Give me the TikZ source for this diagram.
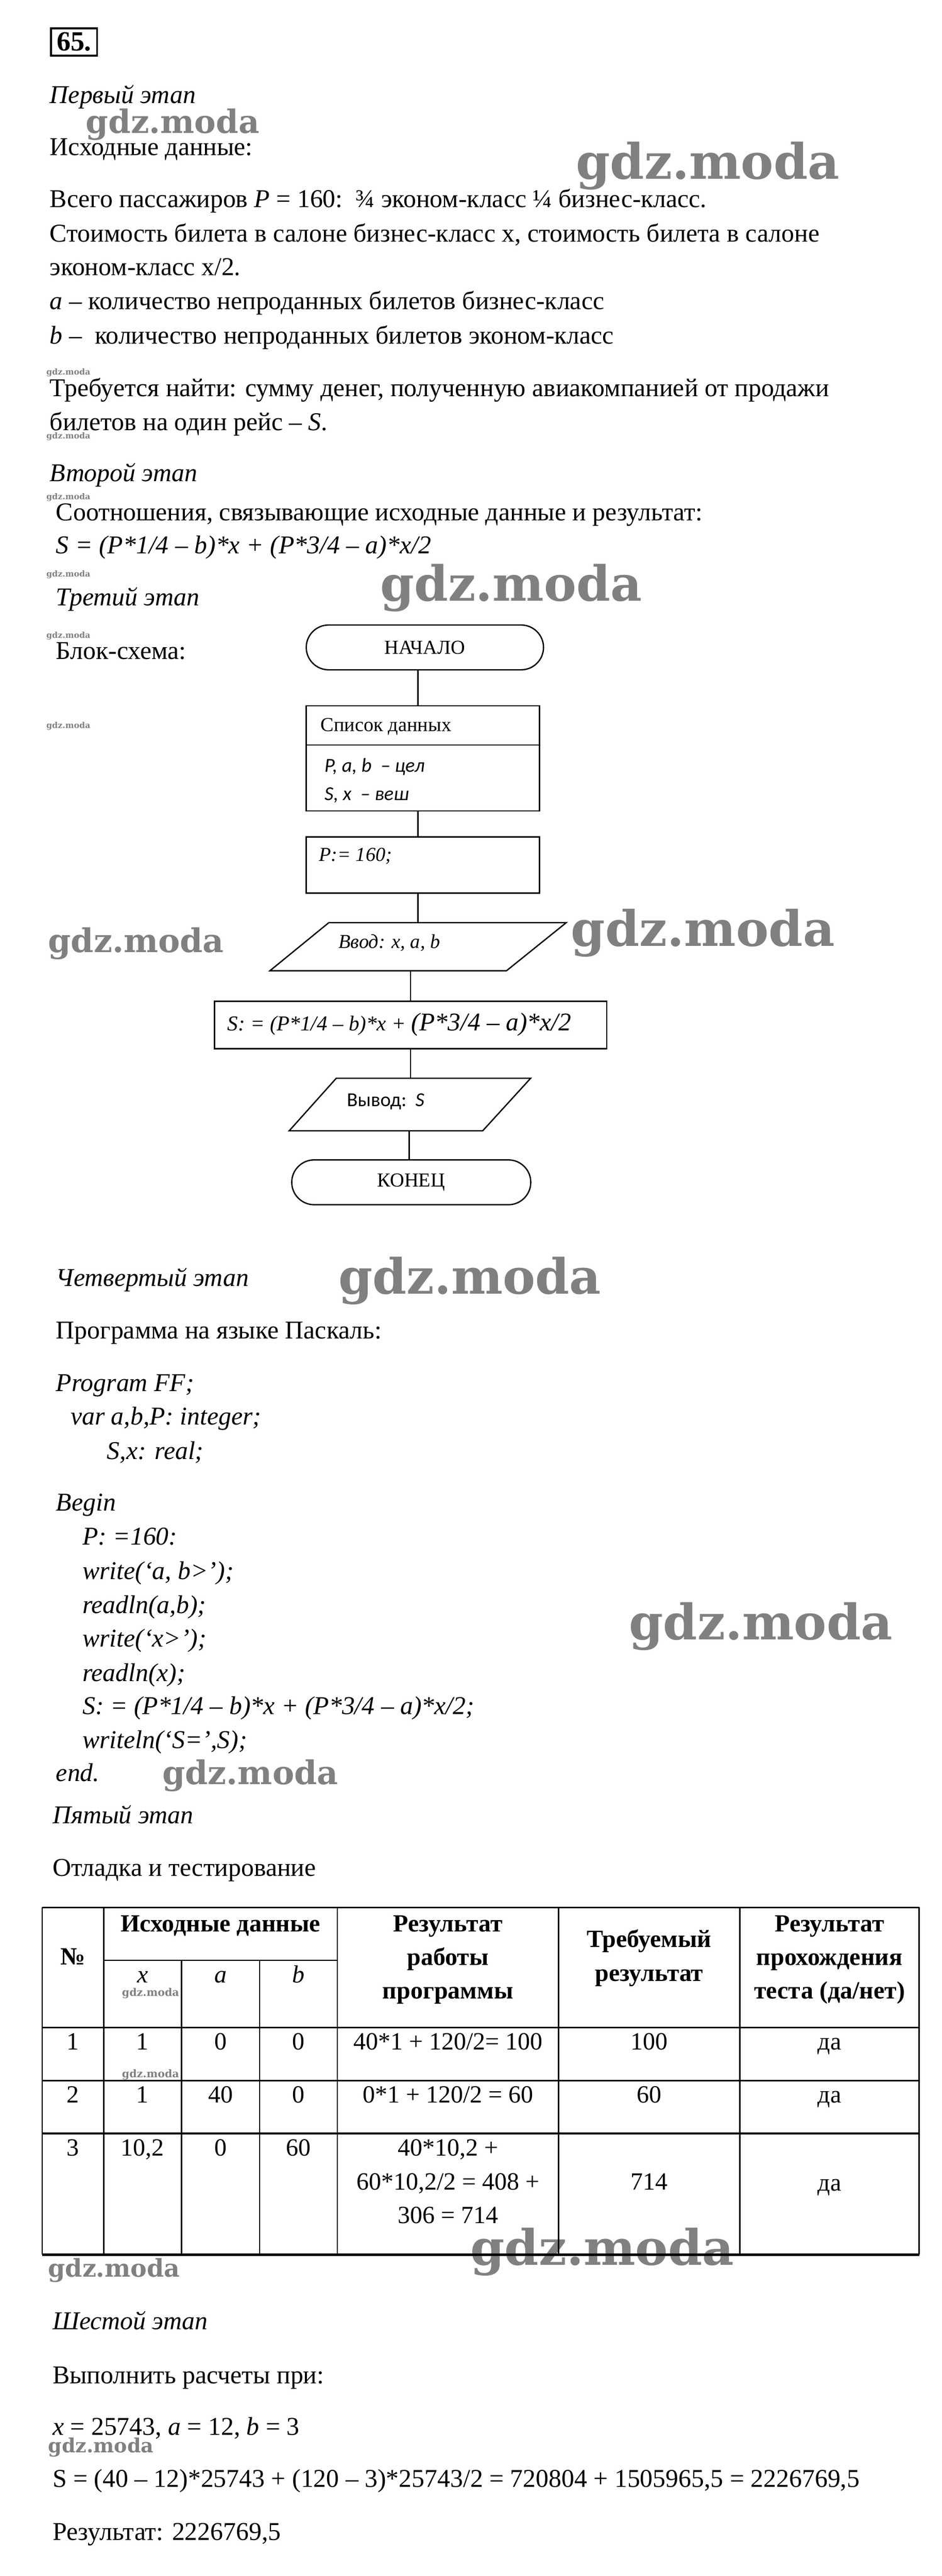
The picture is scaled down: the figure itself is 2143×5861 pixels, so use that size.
\documentclass[tikz,border=0pt]{standalone}
\usepackage{fontspec}
\usepackage{graphicx}
\setmainfont{Liberation Serif}
\newfontfamily\calfam{Carlito}
\newfontfamily\wmfam{DejaVu Serif}
\newcommand\mybody{\fontsize{16.6}{19}\selectfont}
\newcommand\mytab{\fontsize{16.0}{19}\selectfont}
\newcommand\myfc{\fontsize{12.8}{15}\selectfont}
\newcommand\mywm[1]{\resizebox{#1}{!}{\wmfam\bfseries gdz.moda}}
\tikzset{
  txt/.style={anchor=base west, inner sep=0pt, font=\mybody},
  itxt/.style={anchor=base west, inner sep=0pt, font=\mybody\itshape},
  fct/.style={anchor=base west, inner sep=0pt, font=\myfc},
  wm/.style={anchor=base west, inner sep=0pt, text=black!50},
  conn/.style={line width=0.3mm},
  term/.style={draw, line width=0.3mm, rounded corners=5.1mm, inner sep=0pt, minimum height=10.2mm, font=\myfc},
  proc/.style={draw, line width=0.3mm, inner sep=0pt},
  tl/.style={line width=0.3mm},
  tc/.style={anchor=base, inner sep=0pt, font=\mytab},
  th/.style={anchor=base, inner sep=0pt, font=\mytab\bfseries},
  ti/.style={anchor=base, inner sep=0pt, font=\mytab\itshape},
}
\begin{document}
\begin{tikzpicture}[x=0.1mm,y=-0.1mm]
\fill[white] (0,0) rectangle (2143,5861);
\useasboundingbox (0,0) rectangle (2143,5861);

% ---------- watermarks ----------
\node[wm] (w1) at (195,303) {\mywm{39.5mm}};
\node[wm] (w2) at (1310,407) {\mywm{60mm}};
\node[wm] (s1) at (105,853) {\mywm{10mm}};
\node[wm] (s2) at (105,998) {\mywm{10mm}};
\node[wm] (s3) at (105,1137) {\mywm{10mm}};
\node[wm] (s4) at (105,1312) {\mywm{10mm}};
\node[wm] (s5) at (105,1452) {\mywm{10mm}};
\node[wm] (s6) at (105,1657) {\mywm{10mm}};
\node[wm] (w3) at (865,1367) {\mywm{59.5mm}};
\node[wm] (w4) at (109,2167) {\mywm{40mm}};
\node[wm] (w5) at (1299,2153) {\mywm{60mm}};
\node[wm] (w6) at (770,2944) {\mywm{59.7mm}};
\node[wm] (w7) at (1431,3730) {\mywm{60mm}};
\node[wm] (w8) at (369,4060) {\mywm{40mm}};
\node[wm] (s7) at (277,4542) {\mywm{13mm}};
\node[wm] (s8) at (277,4727) {\mywm{13mm}};
\node[wm] (w9) at (109,5181) {\mywm{30mm}};
\node[wm] (w10) at (1070,5153) {\mywm{60mm}};
\node[wm] (w11) at (109,5580) {\mywm{24mm}};

% ---------- header ----------
\node[draw, line width=0.45mm, minimum width=10.5mm, minimum height=6.3mm, inner sep=0pt,
      font=\fontsize{18}{20}\selectfont\bfseries] (num) at (168.5,95.5) {65.};

% ---------- stage 1 ----------
\node[itxt] (st1) at (113,235) {Первый этап};
\node[txt] (l1) at (113,353) {Исходные данные:};
\node[txt] (l2) at (113,472) {Всего пассажиров \textit{P} = 160:\ \ ¾ эконом-класс ¼ бизнес-класс.};
\node[txt] (l3) at (113,550) {Стоимость билета в салоне бизнес-класс x, стоимость билета в салоне};
\node[txt] (l4) at (113,626) {эконом-класс x/2.};
\node[txt] (l5) at (113,704) {\textit{a} – количество непроданных билетов бизнес-класс};
\node[txt] (l6) at (113,782) {\textit{b} –\ \ количество непроданных билетов эконом-класс};
\node[txt] (l7) at (113,902) {Требуется найти: сумму денег, полученную авиакомпанией от продажи};
\node[txt] (l8) at (113,979) {билетов на один рейс – \textit{S}.};

% ---------- stage 2 ----------
\node[itxt] (st2) at (113,1096) {Второй этап};
\node[txt] (l9) at (127,1185) {Соотношения, связывающие исходные данные и результат:};
\node[itxt] (l10) at (127,1260) {S = (P*1/4 – b)*x + (P*3/4 – a)*x/2};

% ---------- stage 3 ----------
\node[itxt] (st3) at (127,1378) {Третий этап};
\node[txt] (l11) at (127,1500) {Блок-схема:};

\node[term, minimum width=54mm] (start) at (967,1473) {НАЧАЛО};
\node[proc, minimum width=53.1mm, minimum height=23.9mm] (data) at (962.5,1725.5) {};
\coordinate (dv) at (0,1695);
\draw[conn] (data.west |- dv) -- (data.east |- dv);
\node[fct] (d1) at (729,1664) {Список данных};
\node[fct, font=\calfam\itshape\myfc] (d2) at (738,1757) {P, a, b\ \ – цел};
\node[fct, font=\calfam\itshape\myfc] (d3) at (738,1821) {S, x\ \ – веш};

\node[proc, minimum width=53.1mm, minimum height=12.8mm] (asg) at (962.5,1968) {};
\node[fct, font=\itshape\myfc] (asgt) at (725,1959) {P:= 160;};

\node[minimum width=67.3mm, minimum height=10.8mm, inner sep=0pt] (inp) at (951.5,2154) {};
\draw[conn] ([xshift=13.4mm]inp.north west) -- (inp.north east)
   -- ([xshift=-13.6mm]inp.south east) -- (inp.south west) -- cycle;
\node[fct, font=\itshape\myfc] (inpt) at (770,2158) {Ввод: x, a, b};

\node[proc, minimum width=89.3mm, minimum height=10.8mm] (calc) at (934.5,2332) {};
\node[fct, font=\itshape\fontsize{13.7}{15}\selectfont] (calct) at (517,2345)
   {S: = (P*1/4 – b)*x + {\fontsize{16.5}{19}\selectfont (P*3/4 – a)*x/2}};

\node[minimum width=54.8mm, minimum height=11.8mm, inner sep=0pt] (outp) at (933,2513) {};
\draw[conn] ([xshift=10.7mm]outp.north west) -- (outp.north east)
   -- ([xshift=-10.9mm]outp.south east) -- (outp.south west) -- cycle;
\node[fct, font=\calfam\myfc] (outt) at (789,2517) {Вывод:\ \ \textit{S}};

\node[term, minimum width=54.4mm] (fin) at (936,2690) {КОНЕЦ};

\coordinate (c1) at (951,0);
\coordinate (c2) at (934,0);
\coordinate (c3) at (931,0);
\draw[conn] (start.south -| c1) -- (data.north -| c1);
\draw[conn] (data.south -| c1) -- (asg.north -| c1);
\draw[conn] (asg.south -| c1) -- (inp.north -| c1);
\draw[conn] (inp.south -| c2) -- (calc.north -| c2);
\draw[conn] (calc.south -| c2) -- (outp.north -| c2);
\draw[conn] (outp.south -| c3) -- (fin.north -| c3);

% ---------- stage 4 ----------
\node[itxt] (st4) at (127,2926) {Четвертый этап};
\node[txt] (l12) at (127,3046) {Программа на языке Паскаль:};
\node[itxt] (p1) at (127,3165) {Program FF;};
\node[itxt] (p2) at (160,3242) {var a,b,P: integer;};
\node[itxt] (p3) at (243,3320) {S,x: real;};
\node[itxt] (p4) at (127,3438) {Begin};
\node[itxt] (p5) at (187,3515) {P: =160:};
\node[itxt] (p6) at (187,3593) {write(‘a, b>’);};
\node[itxt] (p7) at (187,3671) {readln(a,b);};
\node[itxt] (p8) at (187,3747) {write(‘x>’);};
\node[itxt] (p9) at (187,3825) {readln(x);};
\node[itxt] (p10) at (187,3900) {S: = (P*1/4 – b)*x + (P*3/4 – a)*x/2;};
\node[itxt] (p11) at (187,3978) {writeln(‘S=’,S);};
\node[itxt] (p12) at (127,4053) {end.};

% ---------- stage 5 ----------
\node[itxt] (st5) at (119,4149) {Пятый этап};
\node[txt] (l13) at (119,4269) {Отладка и тестирование};

% table grid
\draw[tl] (96,4340) -- (2092,4340);
\draw[tl] (96,4340) -- (96,5130);
\draw[tl] (2092,4340) -- (2092,5130);
\foreach \cx in {236,768,1271,1684} \draw[tl] (\cx,4340) -- (\cx,5130);
\foreach \cx in {413,591} \draw[tl] (\cx,4460) -- (\cx,5130);
\draw[tl] (236,4460) -- (768,4460);
\draw[tl] (96,4613) -- (2092,4613);
\draw[tl] (96,4734) -- (2092,4734);
\draw[line width=0.45mm] (96,4854) -- (2092,4854);
\draw[line width=0.5mm] (96,5130) -- (2092,5130);

% table header
\node[th] (hn) at (166,4470) {№};
\node[th] (hsrc) at (502,4395) {Исходные данные};
\node[ti] (hx) at (324.5,4511) {x};
\node[ti] (ha) at (502,4511) {a};
\node[ti] (hb) at (679.5,4511) {b};
\node[th] (hr1) at (1019.5,4395) {Результат};
\node[th] (hr2) at (1019.5,4471) {работы};
\node[th] (hr3) at (1019.5,4548) {программы};
\node[th] (hq1) at (1477.5,4430) {Требуемый};
\node[th] (hq2) at (1477.5,4508) {результат};
\node[th] (hp1) at (1888,4395) {Результат};
\node[th] (hp2) at (1888,4471) {прохождения};
\node[th] (hp3) at (1888,4548) {теста (да/нет)};

% row 1
\node[tc] (r1n) at (166,4664) {1};
\node[tc] (r1x) at (324.5,4664) {1};
\node[tc] (r1a) at (502,4664) {0};
\node[tc] (r1b) at (679.5,4664) {0};
\node[tc] (r1r) at (1019.5,4664) {40*1 + 120/2= 100};
\node[tc] (r1q) at (1477.5,4664) {100};
\node[tc] (r1p) at (1888,4664) {да};
% row 2
\node[tc] (r2n) at (166,4784) {2};
\node[tc] (r2x) at (324.5,4784) {1};
\node[tc] (r2a) at (502,4784) {40};
\node[tc] (r2b) at (679.5,4784) {0};
\node[tc] (r2r) at (1019.5,4784) {0*1 + 120/2 = 60};
\node[tc] (r2q) at (1477.5,4784) {60};
\node[tc] (r2p) at (1888,4784) {да};
% row 3
\node[tc] (r3n) at (166,4905) {3};
\node[tc] (r3x) at (324.5,4905) {10,2};
\node[tc] (r3a) at (502,4905) {0};
\node[tc] (r3b) at (679.5,4905) {60};
\node[tc] (r3r1) at (1019.5,4905) {40*10,2 +};
\node[tc] (r3r2) at (1019.5,4982) {60*10,2/2 = 408 +};
\node[tc] (r3r3) at (1019.5,5058) {306 = 714};
\node[tc] (r3q) at (1477.5,4982) {714};
\node[tc] (r3p) at (1888,4985) {да};

% ---------- stage 6 ----------
\node[itxt] (st6) at (119,5300) {Шестой этап};
\node[txt] (l14) at (119,5423) {Выполнить расчеты при:};
\node[txt] (l15) at (119,5540) {\textit{x} = 25743, \textit{a} = 12, \textit{b} = 3};
\node[txt] (l16) at (119,5659) {S = (40 – 12)*25743 + (120 – 3)*25743/2 = 720804 + 1505965,5 = 2226769,5};
\node[txt] (l17) at (119,5779) {Результат: 2226769,5};
\end{tikzpicture}
\end{document}
